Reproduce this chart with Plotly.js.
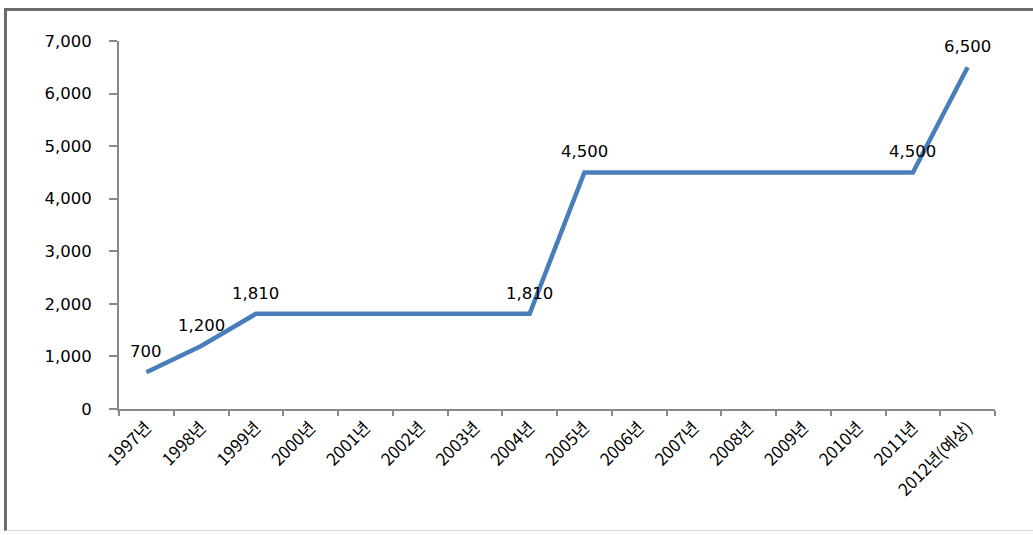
<!DOCTYPE html>
<html>
<head>
<meta charset="utf-8">
<script src="https://cdn.plot.ly/plotly-3.0.1.min.js"></script>
<style>
html,body{margin:0;padding:0;background:#fff;}
#frame{position:absolute;left:4px;top:8px;width:1040px;height:523px;border-left:3px solid #6b6b6b;border-top:3px solid #6b6b6b;border-bottom:1px solid #d8d8d8;box-sizing:border-box;}
#chart{position:absolute;left:0;top:0;width:1033px;height:535px;}
</style>
</head>
<body>
<div id="frame"></div>
<div id="chart"></div>
<script>
const categories = ['1997년','1998년','1999년','2000년','2001년','2002년','2003년','2004년','2005년','2006년','2007년','2008년','2009년','2010년','2011년','2012년(예상)'];
const values = [700,1200,1810,1810,1810,1810,1810,1810,4500,4500,4500,4500,4500,4500,4500,6500];
const labels = ['700','1,200','1,810','','','','','1,810','4,500','','','','','','4,500','6,500'];
const yTickVals = [0,1000,2000,3000,4000,5000,6000,7000];
const yTickText = ['0','1,000','2,000','3,000','4,000','5,000','6,000','7,000'];

const trace = {
  type:'scatter',
  mode:'lines',
  x: categories,
  y: values,
  line:{color:'#4a7ebb', width:4.5},
  hoverinfo:'none'
};

const annotations = [];
labels.forEach((t,i)=>{
  if(!t) return;
  annotations.push({
    x: categories[i], y: values[i], xref:'x', yref:'y',
    text: t, showarrow:false, yanchor:'bottom', xanchor:'center', yshift:9,
    font:{family:'DejaVu Sans, Verdana, sans-serif', size:16.5, color:'#000'}
  });
});

const layout = {
  width:1033, height:535,
  margin:{l:119, r:38, t:41, b:126},
  paper_bgcolor:'rgba(0,0,0,0)',
  plot_bgcolor:'rgba(0,0,0,0)',
  showlegend:false,
  annotations: annotations,
  xaxis:{
    type:'category',
    range:[-0.5,15.5],
    tickangle:-45,
    tickson:'boundaries',
    ticks:'outside', ticklen:5, tickcolor:'#888', tickwidth:2,
    showline:true, linecolor:'#888', linewidth:2,
    showgrid:false, zeroline:false,
    tickfont:{family:'Noto Sans CJK KR, sans-serif', size:17, color:'#000'}
  },
  yaxis:{
    range:[0,7000],
    tickvals:yTickVals, ticktext:yTickText,
    ticks:'outside', ticklen:8, tickcolor:'#888', tickwidth:2,
    showline:true, linecolor:'#888', linewidth:2,
    showgrid:false, zeroline:false,
    ticklabelstandoff:14,
    tickfont:{family:'DejaVu Sans, Verdana, sans-serif', size:16.5, color:'#000'}
  }
};

Plotly.newPlot('chart',[trace],layout,{staticPlot:true,displayModeBar:false});
</script>
</body>
</html>
